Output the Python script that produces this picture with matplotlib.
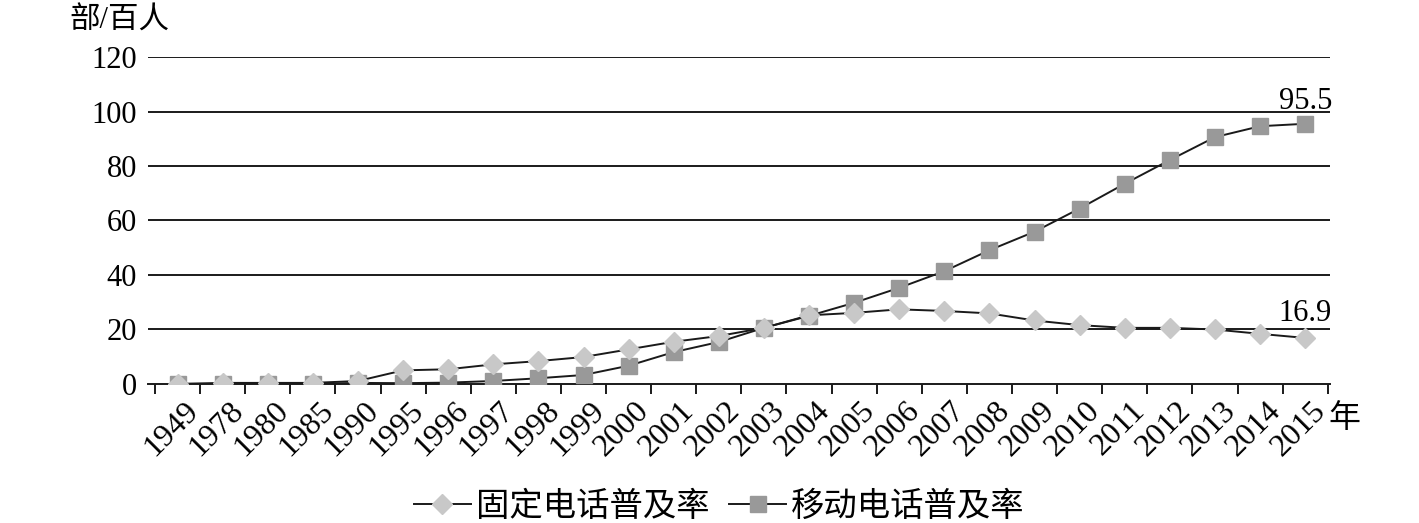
import matplotlib
matplotlib.use("Agg")
import matplotlib.pyplot as plt
import matplotlib.transforms as mtransforms

plt.rcParams['font.family'] = ['Liberation Serif', 'Noto Sans CJK SC', 'DejaVu Sans']

# 数据
anos = ["1949", "1978", "1980", "1985", "1990", "1995", "1996", "1997", "1998", "1999",
        "2000", "2001", "2002", "2003", "2004", "2005", "2006", "2007", "2008", "2009",
        "2010", "2011", "2012", "2013", "2014", "2015"]
fixo = [0.05, 0.4, 0.4, 0.4, 1.1, 5.0, 5.4, 7.2, 8.4, 9.9,
        12.7, 15.5, 17.6, 20.6, 25.2, 26.1, 27.4, 26.8, 25.9, 23.3,
        21.6, 20.6, 20.6, 20.0, 18.4, 16.9]
movel = [0.0, 0.0, 0.0, 0.0, 0.4, 0.3, 0.5, 1.1, 2.1, 3.3,
         6.7, 11.7, 15.4, 20.6, 25.0, 29.8, 35.3, 41.4, 49.1, 55.9,
         64.4, 73.5, 82.2, 90.6, 94.6, 95.5]
series_nomes = ["固定电话普及率", "移动电话普及率"]
y_ticks = [0, 20, 40, 60, 80, 100, 120]

fig = plt.figure(figsize=(14.19, 5.23), dpi=100)
ax = fig.add_axes([0.1043, 0.2658, 0.9373 - 0.1043, 0.891 - 0.2658])

x = list(range(len(anos)))
ax.plot(x, movel, color="#1a1a1a", lw=1.4, marker="s", ms=11,
        markerfacecolor="#999999", markeredgecolor="#999999", label=series_nomes[1], zorder=3)
ax.plot(x, fixo, color="#1a1a1a", lw=1.4, marker="D", ms=10,
        markerfacecolor="#c8c8c8", markeredgecolor="#c8c8c8", label=series_nomes[0], zorder=4)

ax.set_xlim(-0.655, 25.55)
ax.set_ylim(0, 120)
ax.set_yticks(y_ticks)
for v in y_ticks[1:]:
    ax.axhline(v, color="#1a1a1a", lw=1.4, zorder=1)

for s in ["top", "right", "left"]:
    ax.spines[s].set_visible(False)
ax.spines["bottom"].set_linewidth(1.4)
ax.spines["bottom"].set_color("#1a1a1a")

# ticks nas fronteiras das categorias
ax.set_xticks([i - 0.5 for i in range(len(anos) + 1)])
ax.set_xticklabels([])
ax.set_xticks(x, minor=True)
ax.set_xticklabels(anos, minor=True, rotation=45, ha="right", va="top",
                   rotation_mode="anchor", fontsize=23)
ax.tick_params(axis="x", which="major", length=7, width=1.4, color="#1a1a1a")
ax.tick_params(axis="x", which="minor", length=0, pad=9)
ax.tick_params(axis="y", length=0, labelsize=22, pad=8)
desloc = mtransforms.ScaledTranslation(6 / 100, 0, fig.dpi_scale_trans)
for lbl in ax.get_xticklabels(minor=True):
    lbl.set_transform(lbl.get_transform() + desloc)

ax.text(25, 95.5 + 3, "95.5", ha="center", va="bottom", fontsize=22)
ax.text(25, 16.9 + 3.5, "16.9", ha="center", va="bottom", fontsize=22)

fig.text(0.049, 0.96, "部/百人", ha="left", va="center", fontsize=22)
fig.text(0.936, 0.199, "年", ha="left", va="center", fontsize=23)

h, l = ax.get_legend_handles_labels()
fig.legend(h[::-1], l[::-1], loc="center", bbox_to_anchor=(0.507, 0.03), ncol=2,
           frameon=False, fontsize=24, handlelength=1.7, columnspacing=0.6,
           handletextpad=0.15)

fig.savefig("out.png", dpi=100)
